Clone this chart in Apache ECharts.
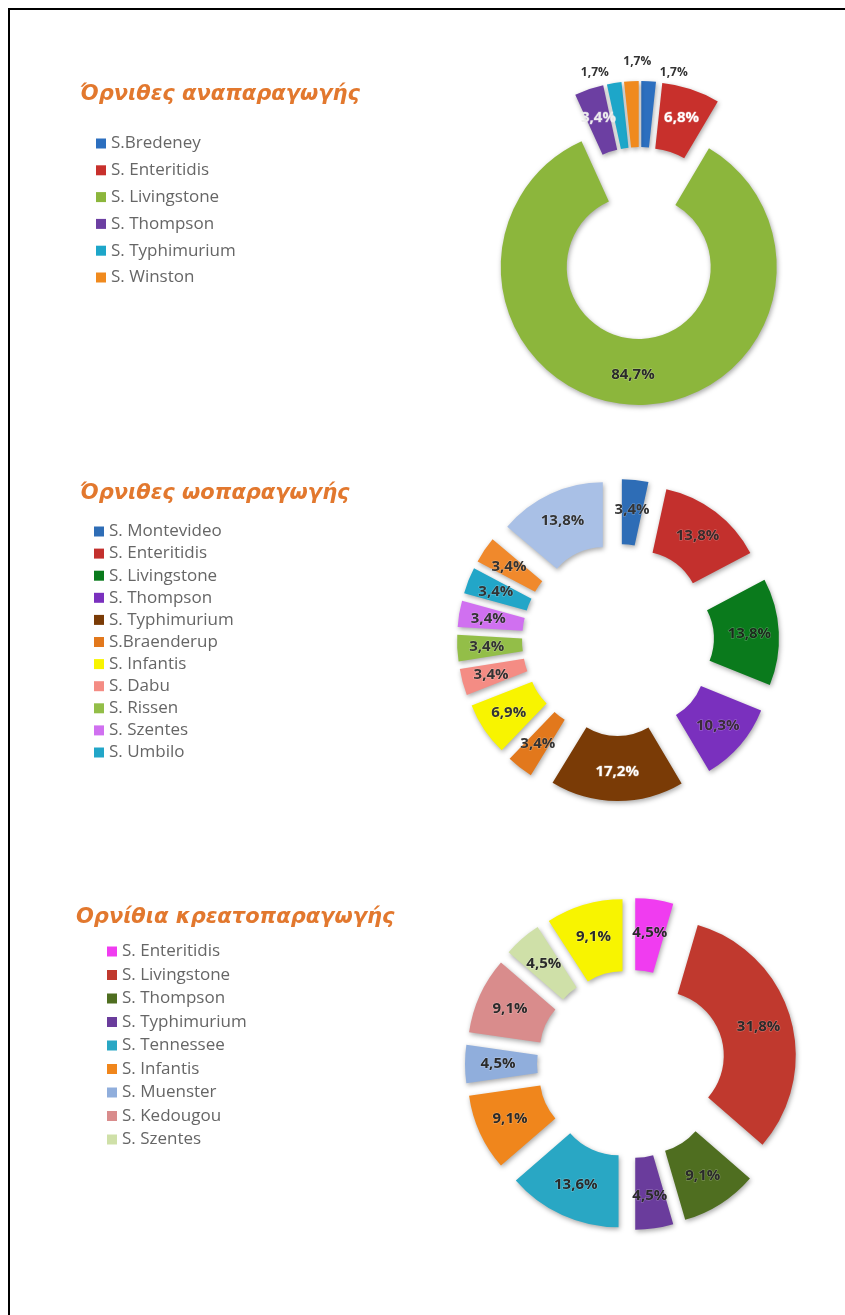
<!DOCTYPE html>
<html>
<head>
<meta charset="utf-8">
<script src="https://cdn.jsdelivr.net/npm/echarts@6/dist/echarts.min.js"></script>
<style>
html,body{margin:0;padding:0;background:#fff;}
#frame{position:absolute;left:8px;top:8px;width:837px;height:1307px;border-top:2px solid #000;border-left:2px solid #000;box-sizing:border-box;}
#chart{position:absolute;left:0;top:0;width:845px;height:1315px;}
</style>
</head>
<body>
<div id="frame"></div>
<div id="chart"></div>
<script>
// ---------- Data ----------
const title1 = 'Όρνιθες αναπαραγωγής';
const names1 = ['S.Bredeney', 'S. Enteritidis', 'S. Livingstone', 'S. Thompson', 'S. Typhimurium', 'S. Winston'];
const values1 = [1.7, 6.8, 84.7, 3.4, 1.7, 1.7];
const colors1 = ['#2C6FBF', '#C8302C', '#8CB63C', '#6C3FA2', '#1DA6C9', '#F08A1E'];

const title2 = 'Όρνιθες ωοπαραγωγής';
const names2 = ['S. Montevideo', 'S. Enteritidis', 'S. Livingstone', 'S. Thompson', 'S. Typhimurium',
  'S.Braenderup', 'S. Infantis', 'S. Dabu', 'S. Rissen', 'S. Szentes', 'S. Umbilo', 'S. (12)', 'S. (13)'];
const legend2 = names2.slice(0, 11);
const values2 = [3.4, 13.8, 13.8, 10.3, 17.2, 3.4, 6.9, 3.4, 3.4, 3.4, 3.4, 3.4, 13.8];
const colors2 = ['#2E6DB6', '#C3302D', '#0A7A1C', '#7A30BE', '#7A3B06', '#E2781C', '#F8F400',
  '#F48C84', '#93BE48', '#D070F0', '#22A6C8', '#F0892C', '#A9C0E6'];

const title3 = 'Ορνίθια κρεατοπαραγωγής';
const names3 = ['S. Enteritidis', 'S. Livingstone', 'S. Thompson', 'S. Typhimurium', 'S. Tennessee',
  'S. Infantis', 'S. Muenster', 'S. Kedougou', 'S. Szentes', 'S. (10)'];
const legend3 = names3.slice(0, 9);
const values3 = [4.5, 31.8, 9.1, 4.5, 13.6, 9.1, 4.5, 9.1, 4.5, 9.1];
const colors3 = ['#F03CF0', '#C0392E', '#4F6E20', '#6A3C9C', '#29A7C4', '#F0861C', '#90AEDC', '#D98C8C', '#CFE0A8', '#F8F400'];

// label text colours (white on some dark slices)
const labelColors1 = ['#333', '#fff', '#2a2a2a', '#eee', '#333', '#333'];
const labelColors2 = ['#333', '#3a2a2a', '#1c2a1c', '#3a2a3a', '#fff', '#333', '#333', '#333', '#333', '#333', '#333', '#333', '#333'];

// ---------- Helpers ----------
function fmt(v) { return v.toFixed(1).replace('.', ',') + '%'; }

function buildData(names, values, colors, labelColors, outsideBelow) {
  return names.map((n, i) => {
    const outside = outsideBelow && values[i] < outsideBelow;
    return {
      name: n,
      value: values[i],
      selected: true,
      itemStyle: { color: colors[i] },
      label: {
        position: outside ? 'outside' : 'inside',
        fontSize: outside ? 12 : 15,
        color: labelColors ? labelColors[i] : '#2a2a2a'
      },
      labelLine: { show: false }
    };
  });
}

const fontFam = '"Open Sans", "Noto Sans", sans-serif';

const baseSeries = {
  type: 'pie',
  startAngle: 90,
  clockwise: true,
  selectedMode: 'multiple',
  avoidLabelOverlap: false,
  silent: true,
  itemStyle: {
    shadowBlur: 5,
    shadowColor: 'rgba(0,0,0,0.35)',
    shadowOffsetX: 1,
    shadowOffsetY: 2
  },
  label: {
    show: true,
    formatter: p => fmt(p.value),
    fontFamily: fontFam,
    fontWeight: 'bold',
    fontSize: 15,
    textBorderColor: 'rgba(255,255,255,0.3)',
    textBorderWidth: 1
  },
  labelLine: { show: false, length: 2, length2: 0 }
};

function legendData(list, names, colors) {
  return list.map(n => ({ name: n, itemStyle: { color: colors[names.indexOf(n)] } }));
}

const legendBase = {
  orient: 'vertical',
  icon: 'rect',
  itemWidth: 10,
  itemHeight: 10,
  selectedMode: false,
  textStyle: { fontFamily: fontFam, fontSize: 17, color: '#666', lineHeight: 17 }
};

const titleStyle = { fontFamily: '"DejaVu Sans", sans-serif', fontSize: 21, fontStyle: 'italic', fontWeight: 'bold', color: '#E2782E' };

// label nudges for the tiny slices of chart 1 (labels above the ring)
const nudge1 = { 0: [20, -1], 4: [-14, -3], 5: [11, -12] };

const chart = echarts.init(document.getElementById('chart'), null, { renderer: 'canvas' });
chart.setOption({
  animation: false,
  title: [
    { text: title1, left: 75, top: 79, textStyle: titleStyle },
    { text: title2, left: 75, top: 478, textStyle: titleStyle },
    { text: title3, left: 71, top: 902, textStyle: titleStyle }
  ],
  legend: [
    Object.assign({}, legendBase, { left: 91, top: 130, itemGap: 9.8, data: legendData(names1, names1, colors1) }),
    Object.assign({}, legendBase, { left: 89, top: 518, itemGap: 5.1, data: legendData(legend2, names2, colors2) }),
    Object.assign({}, legendBase, { left: 102, top: 938, itemGap: 6.5, data: legendData(legend3, names3, colors3) })
  ],
  series: [
    Object.assign({}, baseSeries, {
      name: 'breeders',
      center: [640, 243],
      radius: [72, 138],
      selectedOffset: 24,
      data: buildData(names1, values1, colors1, labelColors1, 2),
      labelLayout: function (p) {
        const n = nudge1[p.dataIndex];
        if (!n) return {};
        return { align: 'center', verticalAlign: 'bottom', dx: n[0], dy: n[1] };
      }
    }),
    Object.assign({}, baseSeries, {
      name: 'layers',
      center: [618, 640],
      radius: [60, 125],
      selectedOffset: 36,
      data: buildData(names2, values2, colors2, labelColors2, 0)
    }),
    Object.assign({}, baseSeries, {
      name: 'broilers',
      center: [631, 1064],
      radius: [64, 136],
      selectedOffset: 30,
      data: buildData(names3, values3, colors3, null, 0)
    })
  ]
});
</script>
</body>
</html>
